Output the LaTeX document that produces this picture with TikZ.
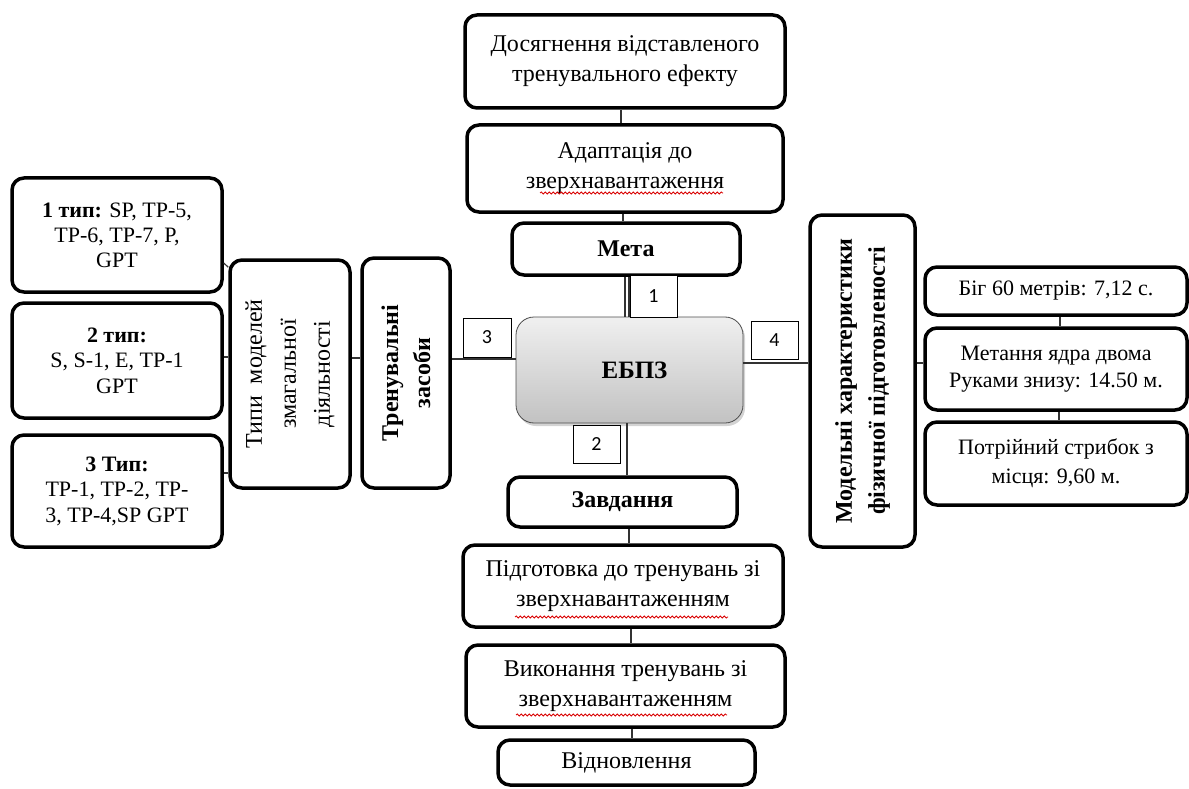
\documentclass[tikz,border=0pt]{standalone}
\usepackage{fontspec}
\setmainfont{Liberation Serif}
\newfontfamily\numfont{Carlito}
\usetikzlibrary{shadows,decorations.pathmorphing}
\tikzset{
  box/.style={draw, line width=3.5pt, rounded corners=12pt, fill=white, align=center, inner sep=2pt, font=\fontsize{24}{30}\selectfont},
  conn/.style={line width=1.2pt, draw=black!80},
  lab/.style={draw, line width=1pt, fill=white, font=\numfont\fontsize{20}{22}\selectfont, inner sep=0pt},
  vtext/.style={rotate=90, align=center, inner sep=0pt},
  spell/.style={draw=red!85!black, line width=0.8pt, decorate, decoration={snake, amplitude=1pt, segment length=4pt}}
}
\begin{document}
\begin{tikzpicture}[x=1pt,y=-1pt]
\useasboundingbox (0,0) rectangle (1189,789);
% centre column
\node[box, minimum width=320, minimum height=93] (top) at (625,61.5) {Досягнення відставленого\\тренувального ефекту};
\node[box, minimum width=316, minimum height=87] (adapt) at (625,168.5) {Адаптація до\\зверхнавантаження};
\node[box, minimum width=228, minimum height=52, font=\bfseries\fontsize{24}{28}\selectfont] (meta) at (626,249) {Мета};
\node[draw=black!70, line width=0.8pt, rounded corners=18pt, minimum width=227, minimum height=106,
      top color=white!94!black, bottom color=black!24, drop shadow={opacity=0.35, shadow xshift=2pt, shadow yshift=-3pt},
      font=\bfseries\fontsize{25}{28}\selectfont] (ebpz) at (629.5,370) {\hspace*{10pt}ЕБПЗ};
\node[box, minimum width=229, minimum height=50, font=\bfseries\fontsize{24}{28}\selectfont] (zavd) at (622.5,502) {Завдання};
\node[box, minimum width=320, minimum height=82] (pidg) at (623,586) {Підготовка до тренувань зі\\зверхнавантаженням};
\node[box, minimum width=319, minimum height=82] (vyk) at (625.5,686) {Виконання тренувань зі\\зверхнавантаженням};
\node[box, minimum width=257, minimum height=45] (vidn) at (626.5,762.5) {Відновлення};
% left side
\node[box, minimum width=210, minimum height=114, font=\fontsize{22}{25}\selectfont] (t1) at (117,235) {\textbf{1 тип:} SP, TP-5,\\TP-6, TP-7, P,\\GPT};
\node[box, minimum width=210, minimum height=115, font=\fontsize{22}{25.5}\selectfont] (t2) at (117,360.5) {\textbf{2 тип:}\\S, S-1, E, TP-1\\GPT};
\node[box, minimum width=210, minimum height=112, font=\fontsize{22}{25.5}\selectfont] (t3) at (117,491) {\textbf{3 Тип:}\\TP-1, TP-2, TP-\\3, TP-4,SP GPT};
\node[box, minimum width=120, minimum height=228] (typy) at (290,374) {};
\node[vtext, font=\fontsize{24}{34}\selectfont] (typyt) at (typy.center) {Типи\ \ моделей\\змагальної\\діяльності};
\node[box, minimum width=88, minimum height=230] (tren) at (406,373) {};
\node[vtext, font=\bfseries\fontsize{24}{32}\selectfont] (trent) at (tren.center) {Тренувальні\\засоби};
% right side
\node[box, minimum width=105, minimum height=332] (model) at (862.5,381) {};
\node[vtext, font=\bfseries\fontsize{24}{33}\selectfont] (modelt) at (model.center) {Модельні характеристики\\фізичної підготовленості};
\node[box, minimum width=262, minimum height=48, font=\fontsize{22}{28}\selectfont] (big) at (1056,291) {Біг 60 метрів: 7,12 с.};
\node[box, minimum width=262, minimum height=82, font=\fontsize{22}{27}\selectfont] (met) at (1056,369) {Метання ядра двома\\Руками знизу: 14.50 м.};
\node[box, minimum width=262, minimum height=83, font=\fontsize{22}{29}\selectfont] (potr) at (1056,463.5) {Потрійний стрибок з\\місця: 9,60 м.};
% connectors, centre column
\draw[conn] ([xshift=-4]top.south) -- ([xshift=-4]top.south |- adapt.north);
\draw[conn] ([xshift=-2]adapt.south) -- ([xshift=-2]adapt.south |- meta.north);
\draw[conn] ([xshift=-4.5]ebpz.north) -- ([xshift=-4.5]ebpz.north |- meta.south);
\draw[conn] ([xshift=-0.5]ebpz.north) -- ([xshift=-0.5]ebpz.north |- meta.south);
\draw[conn] ([xshift=-2.5]ebpz.south) -- ([xshift=-2.5]ebpz.south |- zavd.north);
\draw[conn] ([xshift=6.5]zavd.south) -- ([xshift=6.5]zavd.south |- pidg.north);
\draw[conn] ([xshift=8]pidg.south) -- ([xshift=8]pidg.south |- vyk.north);
\draw[conn] ([xshift=6.5]vyk.south) -- ([xshift=6.5]vyk.south |- vidn.north);
% connectors, left
\draw[conn] ([yshift=11]ebpz.west) -- ([yshift=11]ebpz.west -| tren.east);
\draw[conn] ([yshift=16]typy.east) -- ([yshift=16]typy.east -| tren.west);
\draw[conn] ([yshift=-28]t1.east) -- ([yshift=-9]typy.north west);
\draw[conn] ([yshift=3.5]t2.east) -- ([yshift=3.5]t2.east -| typy.west);
\draw[conn] ([yshift=18]t3.east) -- ([yshift=18]t3.east -| typy.west);
% connectors, right
\draw[conn] ([yshift=7]ebpz.east) -- ([yshift=7]ebpz.east -| model.west);
\draw[conn] ([yshift=6]met.west) -- ([yshift=6]met.west -| model.east);
\draw[conn] ([xshift=4]big.south) -- ([xshift=4]big.south |- met.north);
\draw[conn] ([xshift=3]met.south) -- ([xshift=3]met.south |- potr.north);
% number labels
\node[lab, minimum width=47, minimum height=42] (l1) at (653.5,296) {1};
\node[lab, minimum width=47, minimum height=38] (l2) at (596.5,444) {2};
\node[lab, minimum width=48, minimum height=39] (l3) at (487,337.5) {3};
\node[lab, minimum width=47, minimum height=38] (l4) at (774.5,340) {4};
% spell-check underlines
\draw[spell] (540,193) -- (723,193);
\draw[spell] (515,617) -- (728,617);
\draw[spell] (516,715) -- (727,715);
\end{tikzpicture}
\end{document}
